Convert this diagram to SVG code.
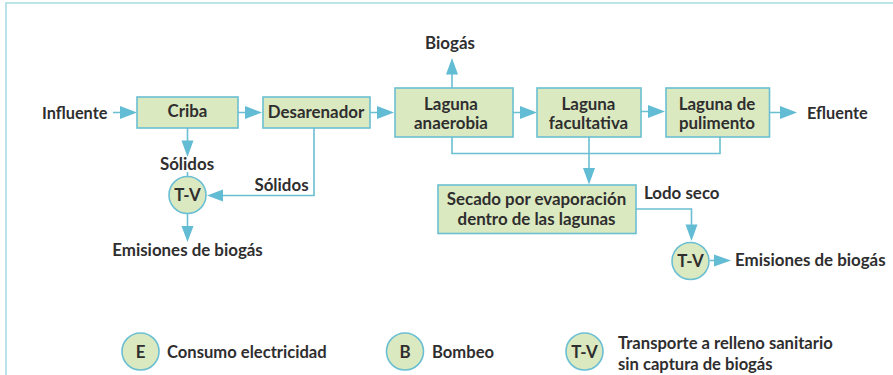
<svg xmlns="http://www.w3.org/2000/svg" width="893" height="375" viewBox="0 0 893 375">
<style>
text{font-family:"Lato","Liberation Sans",sans-serif;font-size:16.9px;font-weight:700;fill:#2f2e2f}
.m{text-anchor:middle}
.s{font-size:16.3px}
.g{font-size:16.6px}
.box{fill:#dbe9c0;stroke:#6bbfd3;stroke-width:1.6}
.l{fill:none;stroke:#6bbfd3;stroke-width:1.6}
.h{fill:#62bcd4}
.f{fill:none;stroke:#a9dbe6;stroke-width:1.6}
</style>
<path class="f" d="M6 375V3H893"/>
<g id="connectors">
<path class="l" d="M113 112.500H122M238 112.500H247M370 112.500H379M513 112.500H522M641 111.500H650M770 112.500H780"/>
<path class="h" d="M120 106L137 112.500L120 119ZM245 106L262 112.500L245 119ZM377 106L394 112.500L377 119ZM520 106L537 112.500L520 119ZM648 105L665 111.500L648 118ZM780 106L797 112.500L780 119Z"/>
<path class="l" d="M187.500 128V142M187.500 172V177M187.500 214V228"/>
<path class="h" d="M181.500 140.500H193.500L187.500 157ZM181.500 226H193.500L187.500 242Z"/>
<path class="l" d="M314 128V195.500H222"/>
<path class="h" d="M223 189.500V201.500L207 195.500Z"/>
<path class="l" d="M452 88V72"/>
<path class="h" d="M446 74.500H458L452 58Z"/>
<path class="l" d="M452 137V153.500H720V137M589 137V170"/>
<path class="h" d="M583 168H595L589 184.500Z"/>
<path class="l" d="M636 209H691.500V226"/>
<path class="h" d="M685.500 224.500H697.500L691.500 241Z"/>
<path class="l" d="M710 260.500H716"/>
<path class="h" d="M714 254.500L731 260.500L714 266.500Z"/>
</g>
<g id="influente"><text class="s" x="42" y="118.500">Influente</text></g>
<g id="criba"><rect class="box" x="137" y="97" width="101" height="31"/><text class="m" x="187.500" y="116.500">Criba</text></g>
<g id="desarenador"><rect class="box" x="263" y="97" width="107" height="31"/><text class="m" x="316" y="117.500">Desarenador</text></g>
<g id="anaerobia"><rect class="box" x="395" y="88" width="118" height="49"/><text class="m" x="451" y="109.500">Laguna</text><text class="m" x="451" y="128.500">anaerobia</text></g>
<g id="facultativa"><rect class="box" x="537" y="88" width="104" height="49"/><text class="m" x="588.500" y="109.500">Laguna</text><text class="m" x="588.500" y="128.500">facultativa</text></g>
<g id="pulimento"><rect class="box" x="666" y="88" width="103.500" height="49"/><text class="m" x="717" y="109.500">Laguna de</text><text class="m" x="717" y="128.500">pulimento</text></g>
<g id="efluente"><text class="s" x="807" y="118.500">Efluente</text></g>
<g id="biogas"><text class="m" x="450" y="48.500">Biogás</text></g>
<g id="solidos1"><text class="m" x="187" y="169.500">Sólidos</text></g>
<g id="solidos2"><text class="m" x="281.500" y="190.500">Sólidos</text></g>
<g id="tv1"><circle class="box" cx="187.500" cy="195" r="18.500"/><text class="m" x="187.500" y="201">T-V</text></g>
<g id="emisiones1"><text class="m" x="187.500" y="255.500">Emisiones de biogás</text></g>
<g id="secado"><rect class="box" x="438" y="185" width="198" height="48.500"/><text class="m" x="536.500" y="204.500">Secado por evaporación</text><text class="m" x="536.500" y="224.500">dentro de las lagunas</text></g>
<g id="lodo"><text x="644" y="198.500">Lodo seco</text></g>
<g id="tv2"><circle class="box" cx="690.500" cy="261" r="18.500"/><text class="m" x="690.500" y="267">T-V</text></g>
<g id="emisiones2"><text x="735" y="265.500">Emisiones de biogás</text></g>
<g id="legend-e"><circle class="box" cx="140.500" cy="351.500" r="18.500"/><text class="m" x="140.500" y="358">E</text><text class="g" x="167" y="358">Consumo electricidad</text></g>
<g id="legend-b"><circle class="box" cx="405" cy="351.500" r="18.500"/><text class="m" x="405" y="358">B</text><text class="g" x="432" y="358">Bombeo</text></g>
<g id="legend-tv"><circle class="box" cx="584.500" cy="351.500" r="18.500"/><text class="m" x="584.500" y="358">T-V</text><text class="g" x="618" y="349">Transporte a relleno sanitario</text><text class="g" x="618" y="370">sin captura de biogás</text></g>
</svg>
